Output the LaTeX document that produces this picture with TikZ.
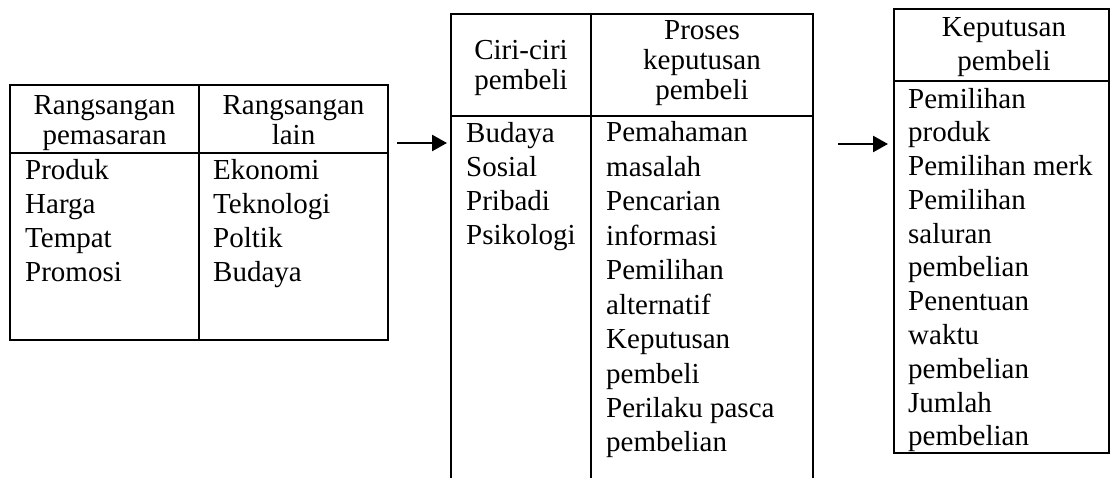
\documentclass[tikz,border=0pt]{standalone}
\usepackage{fontspec}
\setmainfont{Liberation Serif}
\usetikzlibrary{arrows.meta}
\tikzset{
  frame/.style={line width=2.4pt},
  head/.style={inner sep=0pt, align=center, anchor=base, font=\fontsize{29}{30}\selectfont},
  cell/.style={inner sep=0pt, align=left, anchor=base west, font=\fontsize{29}{34}\selectfont},
  flow/.style={line width=2.6pt, -{Triangle[length=15pt,width=16pt]}}
}
\begin{document}
\begin{tikzpicture}[x=1pt,y=-1pt]
  \useasboundingbox (0,0) rectangle (1112,478);
  % stimuli (nodes sit on their last baseline)
  \draw[frame] (10,85) rectangle (388,340);
  \draw[frame] (10,153) -- (388,153) (199,85) -- (199,340);
  \node[head] (pasar) at (104.5,145) {Rangsangan\\pemasaran};
  \node[head] (lain) at (293.5,145) {Rangsangan\\lain};
  \node[cell] (pasarL) at (25,282) {Produk\\Harga\\Tempat\\Promosi};
  \node[cell] (lainL) at (213,282) {Ekonomi\\Teknologi\\Poltik\\Budaya};
  % buyer black box
  \draw[frame] (451,478) -- (451,14) -- (813,14) -- (813,478);
  \draw[frame] (451,116) -- (813,116) (591,14) -- (591,478);
  \node[head] (ciri) at (521,90) {Ciri-ciri\\pembeli};
  \node[head] (proses) at (702,100) {Proses\\keputusan\\pembeli};
  \node[cell] (ciriL) at (466,245) {Budaya\\Sosial\\Pribadi\\Psikologi};
  \node[cell, font=\fontsize{29}{34.5}\selectfont] (prosesL) at (606,452) {Pemahaman\\masalah\\Pencarian\\informasi\\Pemilihan\\alternatif\\Keputusan\\pembeli\\Perilaku pasca\\pembelian};
  % responses
  \draw[frame] (894,9) rectangle (1109,453);
  \draw[frame] (894,81) -- (1109,81);
  \node[head, font=\fontsize{29}{34}\selectfont] (kep) at (1004,71) {Keputusan\\pembeli};
  \node[cell, font=\fontsize{29}{33.8}\selectfont] (kepL) at (908,446) {Pemilihan\\produk\\Pemilihan merk\\Pemilihan\\saluran\\pembelian\\Penentuan\\waktu\\pembelian\\Jumlah\\pembelian};
  % arrows
  \coordinate (a1) at (397,143); \coordinate (b1) at (447,143);
  \coordinate (a2) at (838,144); \coordinate (b2) at (888,144);
  \draw[flow] (a1) -- (b1);
  \draw[flow] (a2) -- (b2);
\end{tikzpicture}
\end{document}
